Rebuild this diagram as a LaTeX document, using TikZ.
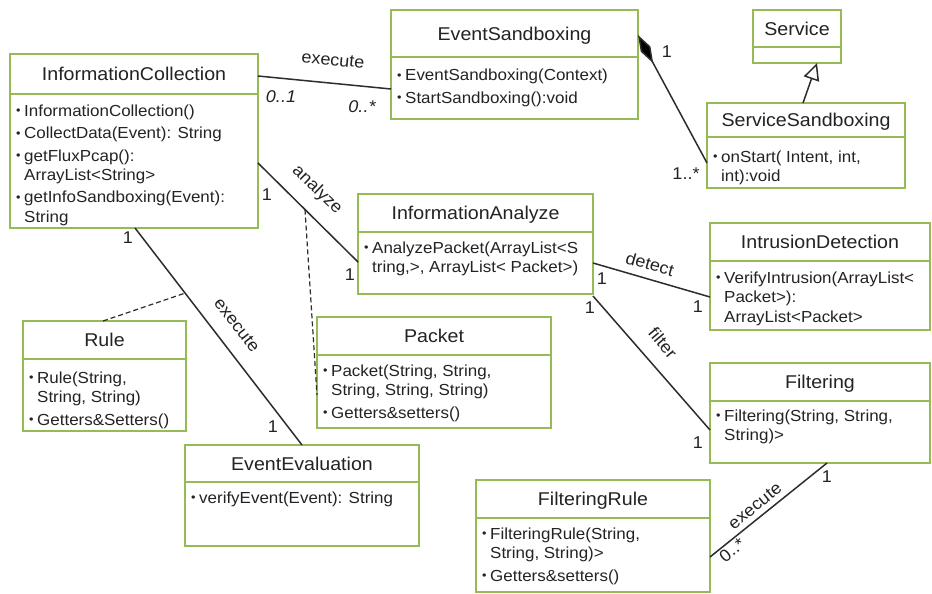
\documentclass[tikz,border=0pt]{standalone}
\usepackage{fontspec}
\setmainfont[FakeStretch=1.06]{Liberation Sans}
\usetikzlibrary{arrows.meta}
\definecolor{boxgreen}{RGB}{150,186,84}
\definecolor{txt}{RGB}{35,35,35}
\definecolor{lnk}{RGB}{45,45,45}
\newcommand\bu{\makebox[8pt][l]{\raisebox{1.5pt}{\fontsize{12}{12}\selectfont •}}}
\newcommand\ind{\hspace*{8pt}}
\newcommand\nl{\\[3pt]}
% name, x1, y1, x2, y2, ydiv, title, first baseline, body
\newcommand\umlclass[9]{%
  \pgfmathsetmacro\cw{#4-#2}\pgfmathsetmacro\ch{#5-#3}%
  \node[classbox, minimum width=\cw pt, minimum height=\ch pt] (#1) at (#2,#3) {};
  \draw[classline] (#2,#6) -- (#4,#6);
  \node[titletext] (#1-t) at ({(#2+#4)/2},{(#3+#6)/2+6.6}) {#7};
  \node[bodytext] (#1-b) at (#2+6,#8) {\parbox[t]{\dimexpr\cw pt-8pt\relax}{\fontsize{16}{19.5}\selectfont\raggedright #9}};
}
\tikzset{
  classbox/.style={draw=boxgreen, line width=2.3pt, fill=white, anchor=north west, inner sep=0pt, outer sep=0pt},
  classline/.style={draw=boxgreen, line width=2.3pt},
  titletext/.style={anchor=base, inner sep=0pt, text=txt, font=\fontsize{18.5}{20}\selectfont},
  bodytext/.style={anchor=base west, inner sep=0pt, text=txt},
  assoc/.style={draw=lnk, line width=1.5pt},
  dashlink/.style={draw=lnk, line width=1.2pt, dash pattern=on 5pt off 3pt},
  lbl/.style={inner sep=0pt, text=txt, font=\fontsize{17}{18}\selectfont},
  mult/.style={inner sep=0pt, text=txt, font=\fontsize{17}{18}\selectfont},
}
\begin{document}
\begin{tikzpicture}[x=1pt,y=-1pt]
\useasboundingbox[fill=white] (0,0) rectangle (932,594);

\umlclass{ic}{10}{54}{258}{228}{94}{InformationCollection}{116}{%
\bu InformationCollection()\nl
\bu CollectData(Event): String\nl
\bu getFluxPcap():\\ \ind ArrayList<String>\nl
\bu getInfoSandboxing(Event):\\ \ind String}

\umlclass{es}{391}{10}{638}{119}{57}{EventSandboxing}{81}{%
\bu EventSandboxing(Context)\nl
\bu StartSandboxing():void}

\umlclass{svc}{753}{10}{841}{63}{47}{Service}{0}{}

\umlclass{ss}{707}{103}{905}{188}{137}{ServiceSandboxing}{162}{%
\bu onStart( Intent, int,\\ \ind int):void}

\umlclass{ia}{358}{194}{593}{294}{232}{InformationAnalyze}{253}{%
\bu AnalyzePacket(ArrayList<S\\ \ind tring,>, ArrayList< Packet>)}

\umlclass{id}{710}{223}{930}{330}{261}{IntrusionDetection}{283}{%
\bu VerifyIntrusion(ArrayList<\\ \ind Packet>):\\ \ind ArrayList<Packet>}

\umlclass{pk}{317}{317}{551}{428}{355}{Packet}{376}{%
\bu Packet(String, String,\\ \ind String, String, String)\nl
\bu Getters\&setters()}

\umlclass{rule}{23}{321}{186}{431}{359}{Rule}{383}{%
\bu Rule(String,\\ \ind String, String)\nl
\bu Getters\&Setters()}

\umlclass{fl}{710}{363}{930}{463}{401}{Filtering}{421}{%
\bu Filtering(String, String,\\ \ind String)>}

\umlclass{ee}{185}{445}{419}{546}{482}{EventEvaluation}{503}{%
\bu verifyEvent(Event): String}

\umlclass{fr}{476}{480}{710}{592}{518}{FilteringRule}{539}{%
\bu FilteringRule(String,\\ \ind String, String)>\nl
\bu Getters\&setters()}

% connectors
\draw[assoc] ([yshift=-22pt]ic.north east) -- ([yshift=-79pt]es.north west);
\draw[assoc, {Diamond[length=32pt,width=11pt,fill=black]}-] ([yshift=-25pt]es.north east) -- ([yshift=-60pt]ss.north west);
\draw[assoc, -{Triangle[open,length=17pt,width=16pt,fill=white]}] ([xshift=96pt]ss.north west) -- ([xshift=64pt]svc.south west);
\draw[assoc] ([yshift=-109pt]ic.north east) -- coordinate[pos=0.47] (am) ([yshift=-68pt]ia.north west);
\draw[dashlink] (am) -- ([yshift=-78pt]pk.north west);
\draw[assoc] ([xshift=125pt]ic.south west) -- coordinate[pos=0.3] (em) ([xshift=117pt]ee.north west);
\draw[dashlink] ([xshift=80pt]rule.north west) -- (em);
\draw[assoc] ([yshift=-69pt]ia.north east) -- ([yshift=-74pt]id.north west);
\draw[assoc] ([yshift=-2pt]ia.south east) -- ([yshift=-67pt]fl.north west);
\draw[assoc] ([yshift=-77pt]fr.north east) -- ([xshift=117pt]fl.south west);

% labels
\node[lbl, rotate=-5.6] (l1) at (333,60) {execute};
\node[mult] (m1) at (281,97) {\itshape 0..1};
\node[mult] (m2) at (362,107) {\itshape 0..*};
\node[mult] (m3) at (667,52) {1};
\node[mult] (m4) at (686,174) {1..*};
\node[lbl, rotate=-44] (l2) at (317,190) {analyze};
\node[mult] (m5) at (267,195) {1};
\node[mult] (m6) at (350,275) {1};
\node[lbl, rotate=-52] (l3) at (237,325) {execute};
\node[mult] (m7) at (128,238) {1};
\node[mult] (m8) at (273,427) {1};
\node[lbl, rotate=-16] (l4) at (650,264) {detect};
\node[mult] (m9) at (602,279) {1};
\node[mult] (m10) at (590,308) {1};
\node[mult] (m11) at (698,307) {1};
\node[lbl, rotate=-50] (l5) at (663,343) {filter};
\node[mult] (m12) at (698,443) {1};
\node[lbl, rotate=39] (l6) at (755,506) {execute};
\node[mult] (m13) at (827,477) {1};
\node[mult, rotate=39] (m14) at (732,550) {0..*};
\end{tikzpicture}
\end{document}
